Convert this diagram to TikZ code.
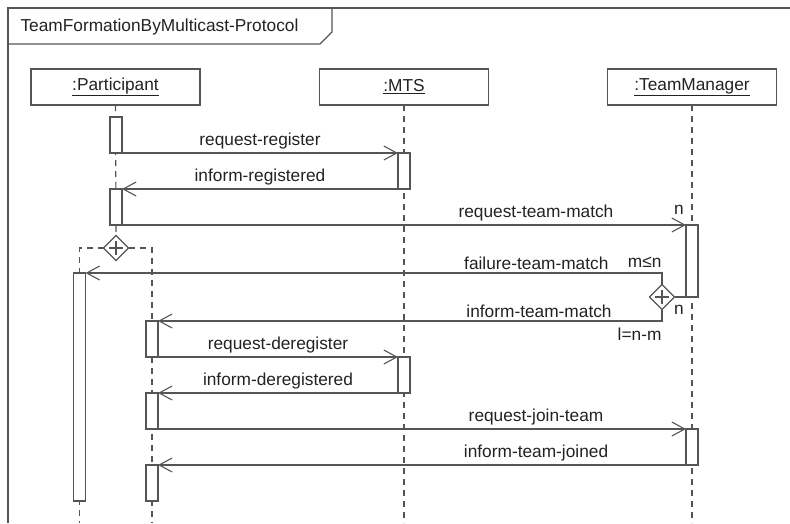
\documentclass[tikz,border=0pt]{standalone}
\usepackage{fontspec}
\setmainfont{Liberation Sans}
\usetikzlibrary{arrows.meta, shapes.geometric, positioning}
\definecolor{umlline}{HTML}{555555}
\definecolor{umltext}{HTML}{222222}
\tikzset{
  head/.style  = {rectangle, draw=umlline, fill=white, minimum width=169pt,
                  minimum height=36pt, inner sep=0pt, outer sep=0pt,
                  font=\fontsize{17.3}{19}\selectfont, text=umltext},
  act/.style   = {rectangle, draw=umlline, fill=white, minimum width=12pt,
                  inner sep=0pt, outer sep=0pt, anchor=north},
  life/.style  = {draw=umlline, dash pattern=on 6pt off 5pt},
  msg/.style   = {draw=umlline, -{Straight Barb[length=13pt, width=14pt]}},
  lbl/.style   = {font=\fontsize{17.3}{19}\selectfont, text=umltext, inner sep=3pt},
  split/.style = {diamond, draw=umlline, fill=white, minimum size=25pt,
                  inner sep=0pt, outer sep=0pt},
}

\begin{document}
\begin{tikzpicture}[x=1pt, y=-1pt, line width=1.1pt]
  \useasboundingbox (0,0) rectangle (790,523);

  % frame and title tab
  \draw[umlline] (8,523) -- (8,8) -- (790,8);
  \node[lbl, anchor=west] (title) at (17,27) {TeamFormationByMulticast-Protocol};
  \draw[umlline] (8,44) -- (320,44) -- (332,32) -- (332,8);

  % lifeline heads
  \node[head] (part) at (115.5,87) {\underline{:Participant}};
  \node[head] (mts)  at (404,87)   {\underline{:MTS}};
  \node[head] (tm)   at (692,87)   {\underline{:TeamManager}};

  \node[split] (psplit)  at (116,248) {};
  \node[split] (tmsplit) at (662,297) {};
  \coordinate (lEnd)   at (79.5,523);
  \coordinate (rEnd)   at (152,523);
  \coordinate (mtsEnd) at (404,523);
  \coordinate (tmEnd)  at (692,523);

  % lifelines
  \draw[life] (part.south) -- (psplit.north);
  \draw[life] (psplit.west) -| (lEnd);
  \draw[life] (psplit.east) -| (rEnd);
  \draw[life] (mts.south) -- (mtsEnd);
  \draw[life] (tm.south) -- (tmEnd);

  % activations
  \node[act, minimum height=36pt]  (pa1)  at (116,117)  {};
  \node[act, minimum height=36pt]  (pa2)  at (116,189)  {};
  \node[act, minimum height=36pt]  (ma1)  at (404,153)  {};
  \node[act, minimum height=72pt]  (tma1) at (692,225)  {};
  \node[act, minimum height=228pt] (la)   at (79.5,273) {};
  \node[act, minimum height=36pt]  (ra1)  at (152,321)  {};
  \node[act, minimum height=36pt]  (ma2)  at (404,357)  {};
  \node[act, minimum height=36pt]  (ra2)  at (152,393)  {};
  \node[act, minimum height=36pt]  (tma2) at (692,429)  {};
  \node[act, minimum height=36pt]  (ra3)  at (152,465)  {};

  % crosses in the split diamonds
  \foreach \s in {psplit, tmsplit}
    \draw[umlline] ([xshift=-7pt]\s.center) -- ([xshift=7pt]\s.center)
                   ([yshift=-7pt]\s.center) -- ([yshift=7pt]\s.center);

  % messages
  \draw[msg] (pa1.south east) -- node[lbl, above]{request-register} (ma1.north west);
  \draw[msg] (ma1.south west) -- node[lbl, above]{inform-registered} (pa2.north east);
  \draw[msg] (pa2.south east) -- node[lbl, above, pos=0.734]{request-team-match} (tma1.north west);
  \draw[umlline] (tmsplit.east) -- (tma1.south west);
  \draw[msg] (tmsplit.north) |- node[lbl, above, pos=0.609]{failure-team-match} (la.north east);
  \draw[msg] (tmsplit.south) |- node[lbl, above, pos=0.622]{inform-team-match} (ra1.north east);
  \draw[msg] (ra1.south east) -- node[lbl, above]{request-deregister} (ma2.north west);
  \draw[msg] (ma2.south west) -- node[lbl, above]{inform-deregistered} (ra2.north east);
  \draw[msg] (ra2.south east) -- node[lbl, above, pos=0.716]{request-join-team} (tma2.north west);
  \draw[msg] (tma2.south west) -- node[lbl, above, pos=0.284]{inform-team-joined} (ra3.north east);

  % multiplicities
  \node[lbl] (nIn)   at (679,210) {n};
  \node[lbl, anchor=east] (mLe) at (665,262) {m≤n};
  \node[lbl] (nOut)  at (679,310) {n};
  \node[lbl, anchor=east] (lEq) at (665,334) {l=n-m};
\end{tikzpicture}
\end{document}
